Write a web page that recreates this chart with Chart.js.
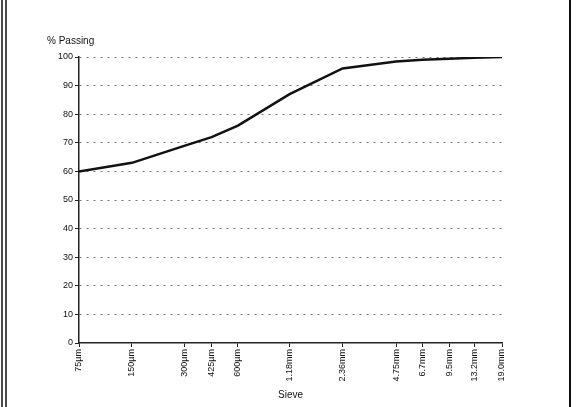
<!DOCTYPE html>
<html>
<head>
<meta charset="utf-8">
<script src="https://cdn.jsdelivr.net/npm/chart.js@4/dist/chart.umd.min.js"></script>
<style>
  html, body { margin: 0; padding: 0; background: #fff; }
  #wrap { width: 576px; height: 407px; position: relative; }
</style>
</head>
<body>
<div id="wrap"><canvas id="chart" width="576" height="407"></canvas></div>
<script>
// sieve sizes in mm (log x axis) and their labels
const sieveLabels = ['75µm', '150µm', '300µm', '425µm', '600µm', '1.18mm', '2.36mm', '4.75mm', '6.7mm', '9.5mm', '13.2mm', '19.0mm'];
const sieveSizesMm = [0.075, 0.15, 0.3, 0.425, 0.6, 1.18, 2.36, 4.75, 6.7, 9.5, 13.2, 19.0];
const passing = [60, 63, 69, 72, 76, 87, 96, 98.4, 99, 99.4, 99.7, 100];
const yTicks = [0, 10, 20, 30, 40, 50, 60, 70, 80, 90, 100];

const FONT = 'Liberation Sans, Arial, sans-serif';

// page frame and the "% Passing" heading
const framePlugin = {
  id: 'frame',
  beforeDraw(chart) {
    const ctx = chart.ctx;
    ctx.save();
    ctx.fillStyle = '#fff';
    ctx.fillRect(0, 0, chart.width, chart.height);
    ctx.strokeStyle = '#111';
    ctx.lineWidth = 1.5;
    ctx.beginPath();
    ctx.moveTo(2, 0); ctx.lineTo(2, chart.height);
    ctx.moveTo(6, 0); ctx.lineTo(6, chart.height);
    ctx.stroke();
    ctx.lineWidth = 2;
    ctx.beginPath();
    ctx.moveTo(570, 0); ctx.lineTo(570, chart.height);
    ctx.stroke();
    ctx.restore();
  },
  afterDraw(chart) {
    const ctx = chart.ctx;
    ctx.save();
    ctx.fillStyle = '#111';
    ctx.font = '10px ' + FONT;
    ctx.textBaseline = 'middle';
    ctx.fillText('% Passing', 47, 41);
    ctx.restore();
  }
};

new Chart(document.getElementById('chart'), {
  type: 'line',
  data: {
    datasets: [{
      data: sieveSizesMm.map((s, i) => ({ x: s, y: passing[i] })),
      borderColor: '#111',
      borderWidth: 2.5,
      pointRadius: 0,
      tension: 0,
      fill: false
    }]
  },
  options: {
    responsive: false,
    animation: false,
    layout: { padding: { top: 57, right: 74, left: 0, bottom: 0 } },
    plugins: { legend: { display: false }, tooltip: { enabled: false } },
    scales: {
      x: {
        type: 'logarithmic',
        min: 0.075,
        max: 19.0,
        afterBuildTicks(scale) {
          scale.ticks = sieveSizesMm.map(v => ({ value: v }));
        },
        afterFit(scale) { scale.height = 64; },
        border: { display: true, color: '#222', width: 1.5 },
        grid: { drawOnChartArea: false, color: '#222', tickLength: 4 },
        ticks: {
          autoSkip: false,
          minRotation: 90,
          maxRotation: 90,
          padding: 2,
          color: '#111',
          font: { family: FONT, size: 9 },
          callback(value, index) { return sieveLabels[index]; }
        },
        title: {
          display: true,
          text: 'Sieve',
          color: '#111',
          font: { family: FONT, size: 10 },
          padding: { top: 0, bottom: 6 }
        }
      },
      y: {
        min: 0,
        max: 100,
        afterBuildTicks(scale) {
          scale.ticks = yTicks.map(v => ({ value: v }));
        },
        afterFit(scale) { scale.width = 79; },
        border: { display: true, color: '#222', width: 1.5, dash: [2, 5] },
        grid: {
          color: (ctx) => ctx.tick && ctx.tick.value === 0 ? 'rgba(0,0,0,0)' : '#777',
          lineWidth: 1,
          tickBorderDash: [],
          tickColor: '#222',
          tickLength: 4
        },
        ticks: {
          padding: 2,
          color: '#111',
          font: { family: FONT, size: 9 }
        }
      }
    }
  },
  plugins: [framePlugin]
});
</script>
</body>
</html>
